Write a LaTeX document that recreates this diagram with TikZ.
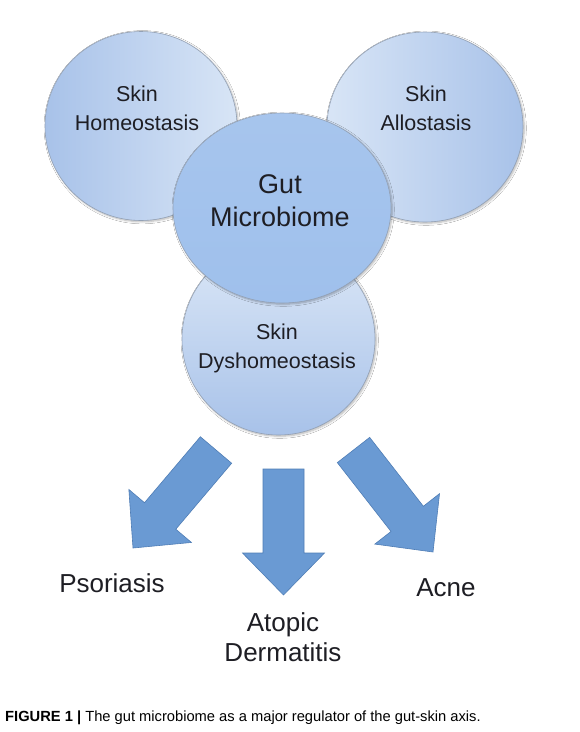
\documentclass[tikz,border=0pt]{standalone}
\usepackage{fontspec}
\setmainfont{Liberation Sans}
\usetikzlibrary{calc,shadows.blur}
\definecolor{txtcol}{HTML}{1E1E24}
\definecolor{cdark}{HTML}{A8C2E9}
\definecolor{clight}{HTML}{D8E5F6}
\definecolor{gutc}{HTML}{9FC0EC}
\definecolor{arrowc}{HTML}{6A9AD3}
\definecolor{arrowd}{HTML}{4F7DB5}
\definecolor{rimc}{HTML}{8090A8}
\newcommand\blockarrow[2]{%
  \coordinate (#1h) at ($(#2)!42pt!(#1)$);
  \filldraw[barrow]
    ($(#1)!20.5pt!90:(#2)$) -- ($(#1h)!20.5pt!90:(#2)$) --
    ($(#1h)!41pt!90:(#2)$) -- (#2) --
    ($(#1h)!41pt!-90:(#2)$) -- ($(#1h)!20.5pt!-90:(#2)$) --
    ($(#1)!20.5pt!-90:(#2)$) -- cycle;}
\begin{document}
\begin{tikzpicture}[x=1pt,y=-1pt,
  bubble/.style={draw=rimc!85, line width=0.6pt,
    blur shadow={shadow xshift=1.2pt, shadow yshift=-1.2pt, shadow blur steps=6, shadow opacity=30}},
  bubtxt/.style={font=\fontsize{21.5}{29}\selectfont, align=center, text=txtcol},
  guttxt/.style={font=\fontsize{27}{33}\selectfont, align=center, text=txtcol},
  lbl/.style={font=\fontsize{26}{30}\selectfont, align=center, text=txtcol},
  barrow/.style={fill=arrowc, draw=arrowd, line width=0.6pt, line join=miter}]
\useasboundingbox (0,0) rectangle (580,732);
\fill[white] (0,0) rectangle (580,732);

% circles
\path[bubble, left color=cdark, right color=clight] (141,126) ellipse [x radius=96, y radius=94.5];
\path[bubble, left color=clight, right color=cdark] (425,127) ellipse [x radius=98, y radius=95];
\path[bubble, top color=clight!90!white, bottom color=cdark] (278.5,339) ellipse [x radius=96.5, y radius=96];
\path[bubble, top color=gutc!92!white, bottom color=gutc] (282,208) ellipse [x radius=109, y radius=95];

% circle texts
\node[bubtxt] (homeo) at (137,108) {Skin\\Homeostasis};
\node[bubtxt] (allo) at (426,108) {Skin\\Allostasis};
\node[guttxt] (gut) at (280,201) {Gut\\Microbiome};
\node[bubtxt] (dys) at (277,348.5) {Skin\\Dyshomeostasis};

% block arrows
\coordinate (las) at (216,450);  \coordinate (lat) at (133,548);
\coordinate (mas) at (283.5,469); \coordinate (mat) at (283.5,595);
\coordinate (ras) at (353.5,450); \coordinate (rat) at (433,552);
\blockarrow{las}{lat}
\blockarrow{mas}{mat}
\blockarrow{ras}{rat}

% outcome labels
\node[lbl] (pso) at (112,583) {Psoriasis};
\node[lbl] (acne) at (446,588) {Acne};
\node[lbl] (atd) at (283,637) {Atopic\\Dermatitis};

% caption
\node[anchor=base west, inner sep=0pt, font=\fontsize{14.7}{17}\selectfont, text=black] (cap) at (5,721)
  {\textbf{FIGURE 1 |} The gut microbiome as a major regulator of the gut-skin axis.};
\end{tikzpicture}
\end{document}
